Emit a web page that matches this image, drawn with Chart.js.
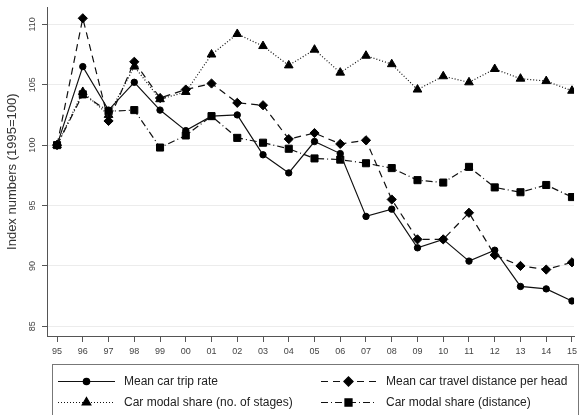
<!DOCTYPE html>
<html>
<head>
<meta charset="utf-8">
<script src="https://cdn.jsdelivr.net/npm/chart.js@4.4.1/dist/chart.umd.min.js"></script>
<style>
  html, body { margin: 0; padding: 0; background: #fff; }
  #wrap { width: 581px; height: 415px; }
</style>
</head>
<body>
<div id="wrap"><canvas id="chart" width="581" height="415"></canvas></div>
<script>
// --- DATA ---
const years = ['95','96','97','98','99','00','01','02','03','04','05','06','07','08','09','10','11','12','13','14','15'];
const yTicks = [85, 90, 95, 100, 105, 110];

const tripRate      = [100, 106.5, 102.9, 105.2, 102.9, 101.2, 102.4, 102.5, 99.2, 97.7, 100.3, 99.3, 94.1, 94.7, 91.5, 92.2, 90.4, 91.3, 88.3, 88.1, 87.1];
const travelDist    = [100, 110.5, 102.0, 106.9, 103.9, 104.6, 105.1, 103.5, 103.3, 100.5, 101.0, 100.1, 100.4, 95.5, 92.2, 92.2, 94.4, 90.9, 90.0, 89.7, 90.3];
const shareStages   = [100, 104.4, 102.5, 106.5, 103.8, 104.4, 107.5, 109.2, 108.2, 106.6, 107.9, 106.0, 107.4, 106.7, 104.6, 105.7, 105.2, 106.3, 105.5, 105.3, 104.5];
const shareDistance = [100, 104.2, 102.8, 102.9, 99.8, 100.8, 102.4, 100.6, 100.2, 99.7, 98.9, 98.8, 98.5, 98.1, 97.1, 96.9, 98.2, 96.5, 96.1, 96.7, 95.7];

const toPoints = arr => arr.map((v, i) => ({ x: i, y: v }));

// --- LEGEND BOX (drawn under the axis, like the original) ---
const legendBox = {
  id: 'legendBox',
  afterDraw(chart) {
    const ctx = chart.ctx;
    ctx.save();
    ctx.strokeStyle = '#777';
    ctx.lineWidth = 1;
    ctx.strokeRect(52.5, 364.5, 526, 60);
    const cols = [[58, 115, 124], [321, 376, 386]];
    const rows = [381, 402];
    chart.data.datasets.forEach((ds, i) => {
      const [x0, x1, tx] = cols[i % 2];
      const y = rows[Math.floor(i / 2)];
      ctx.strokeStyle = ds.borderColor;
      ctx.lineWidth = ds.borderWidth;
      ctx.setLineDash(ds.borderDash || []);
      ctx.beginPath();
      ctx.moveTo(x0, y + 0.5);
      ctx.lineTo(x1, y + 0.5);
      ctx.stroke();
      ctx.setLineDash([]);
      ctx.fillStyle = ds.pointBackgroundColor;
      ctx.strokeStyle = ds.pointBackgroundColor;
      Chart.helpers.drawPoint(ctx, { pointStyle: ds.pointStyle, radius: ds.pointRadius, borderWidth: 1 }, (x0 + x1) / 2, y + 0.5);
      ctx.fillStyle = '#222';
      ctx.font = '12px "Liberation Sans", Arial, sans-serif';
      ctx.textBaseline = 'middle';
      ctx.textAlign = 'left';
      ctx.fillText(ds.label, tx, y + 1);
    });
    ctx.restore();
  }
};

const mk = (label, data, dash, style, radius) => ({
  label,
  data: toPoints(data),
  borderColor: '#111',
  borderWidth: 1.2,
  borderDash: dash,
  pointStyle: style,
  pointRadius: radius,
  pointBackgroundColor: '#000',
  pointBorderColor: '#000',
  pointBorderWidth: 1,
  tension: 0
});

new Chart(document.getElementById('chart'), {
  type: 'line',
  data: {
    datasets: [
      mk('Mean car trip rate', tripRate, [], 'circle', 3.2),
      mk('Mean car travel distance per head', travelDist, [7, 5], 'rectRot', 4.6),
      mk('Car modal share (no. of stages)', shareStages, [1, 2], 'triangle', 5),
      mk('Car modal share (distance)', shareDistance, [7, 3, 1, 3], 'rect', 5)
    ]
  },
  options: {
    responsive: false,
    animation: false,
    layout: { padding: { top: 5, right: 3, bottom: 58, left: 0 } },
    plugins: { legend: { display: false }, tooltip: { enabled: false } },
    scales: {
      x: {
        type: 'linear',
        min: -0.39,
        max: 20.08,
        afterBuildTicks: s => { s.ticks = years.map((_, i) => ({ value: i })); },
        afterFit: s => { s.height = 21; },
        grid: { drawOnChartArea: false, tickLength: 6, tickColor: '#555' },
        border: { color: '#555' },
        ticks: {
          padding: 4,
          color: '#444',
          maxRotation: 0,
          font: { size: 9, family: '"Liberation Sans", Arial, sans-serif' },
          callback: v => years[v]
        }
      },
      y: {
        min: 84.2,
        max: 111.4,
        afterBuildTicks: s => { s.ticks = yTicks.map(v => ({ value: v })); },
        afterFit: s => { s.width = 47; },
        grid: { color: '#ececec', tickColor: '#555', tickLength: 5 },
        border: { color: '#555' },
        title: {
          display: true,
          text: 'Index numbers (1995=100)',
          color: '#333',
          font: { size: 13, family: '"Liberation Sans", Arial, sans-serif' },
          padding: 5
        },
        ticks: {
          padding: 2,
          color: '#444',
          minRotation: 90,
          maxRotation: 90,
          crossAlign: 'center',
          font: { size: 9, family: '"Liberation Sans", Arial, sans-serif' }
        }
      }
    }
  },
  plugins: [legendBox]
});
</script>
</body>
</html>
